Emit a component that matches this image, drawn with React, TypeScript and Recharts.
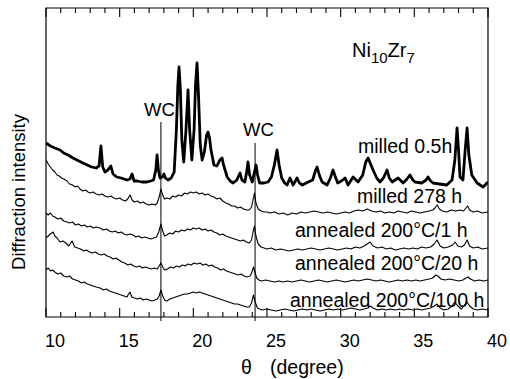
import { LineChart, Line, XAxis, YAxis, ReferenceLine, ReferenceArea } from "recharts";

// XRD patterns of Ni10Zr7, intensity in arbitrary units (offset stacked)
const milled05h: [number, number][] = [
  [10.0, 174], [10.3, 171], [10.6, 169], [10.95, 167], [11.2, 164], [11.5, 162], [11.83, 159], [12.1, 157],
  [12.5, 154], [12.8, 152], [13.1, 150], [13.4, 149], [13.6, 151], [13.73, 171], [13.85, 150], [14.0, 145],
  [14.2, 147], [14.4, 151], [14.55, 143], [14.8, 140], [15.1, 139], [15.5, 137], [15.7, 138], [15.84, 143],
  [15.98, 136], [16.2, 136], [16.5, 135], [16.85, 135], [17.1, 136], [17.3, 137], [17.45, 147], [17.54, 162],
  [17.63, 147], [17.74, 139], [17.9, 140], [18.0, 143], [18.1, 139], [18.28, 137], [18.5, 139], [18.7, 145],
  [18.85, 187], [18.95, 232], [19.03, 250], [19.12, 227], [19.22, 177], [19.35, 155], [19.5, 187], [19.64, 227],
  [19.75, 187], [19.9, 157], [20.05, 187], [20.15, 232], [20.25, 254], [20.35, 222], [20.47, 172], [20.6, 157],
  [20.75, 165], [20.9, 182], [21.0, 185], [21.1, 179], [21.2, 167], [21.4, 152], [21.6, 151], [21.8, 157],
  [21.95, 159], [22.05, 152], [22.3, 140], [22.5, 136], [22.7, 134], [22.95, 137], [23.17, 144], [23.3, 137],
  [23.5, 135], [23.62, 145], [23.71, 155], [23.82, 142], [24.0, 135], [24.15, 145], [24.26, 152], [24.36, 142],
  [24.5, 134], [24.8, 134], [25.07, 135], [25.3, 140], [25.5, 152], [25.68, 167], [25.82, 152], [26.0, 139],
  [26.2, 134], [26.36, 132], [26.56, 139], [26.77, 132], [27.04, 139], [27.2, 134], [27.4, 132], [27.8, 135],
  [28.1, 137], [28.3, 147], [28.4, 150], [28.55, 142], [28.74, 135], [29.08, 132], [29.3, 139], [29.48, 147],
  [29.62, 141], [29.8, 134], [30.05, 136], [30.3, 139], [30.5, 132], [30.84, 140], [31.18, 135], [31.5, 142],
  [31.7, 155], [31.86, 159], [32.0, 154], [32.2, 147], [32.45, 139], [32.67, 135], [32.9, 139], [33.15, 147],
  [33.3, 139], [33.5, 135], [33.9, 139], [34.24, 134], [34.5, 138], [34.7, 142], [34.9, 137], [35.05, 135],
  [35.5, 134], [35.8, 137], [35.93, 140], [36.1, 136], [36.27, 134], [36.7, 133], [37.2, 132], [37.56, 137],
  [37.75, 157], [37.9, 189], [38.0, 167], [38.1, 140], [38.3, 137], [38.45, 167], [38.58, 189], [38.7, 162],
  [38.9, 142], [39.26, 134], [39.67, 130], [40.0, 135],
];

const milled278h: [number, number][] = [
  [10.0, 157], [10.15, 153], [10.3, 150], [10.45, 147], [10.6, 145], [10.75, 142], [10.9, 141], [11.05, 139],
  [11.2, 138], [11.43, 136], [11.6, 133], [11.8, 132], [12.0, 130], [12.15, 131], [12.3, 128], [12.5, 126],
  [12.7, 127], [12.85, 125], [13.0, 124], [13.2, 125], [13.4, 123], [13.6, 122], [13.8, 123], [14.0, 121],
  [14.2, 120], [14.4, 121], [14.6, 119], [14.8, 118], [15.0, 119], [15.2, 117], [15.4, 116], [15.55, 118],
  [15.7, 122], [15.85, 117], [16.0, 115], [16.2, 116], [16.4, 114], [16.6, 115], [16.8, 113], [17.0, 112],
  [17.2, 113], [17.4, 112], [17.55, 114], [17.68, 120], [17.8, 128], [17.92, 122], [18.05, 118], [18.2, 119],
  [18.4, 118], [18.6, 121], [18.8, 120], [19.0, 122], [19.2, 121], [19.4, 124], [19.6, 123], [19.8, 125],
  [20.0, 124], [20.2, 125], [20.4, 123], [20.6, 124], [20.8, 122], [21.0, 123], [21.2, 121], [21.4, 120],
  [21.6, 118], [21.8, 119], [22.0, 116], [22.2, 114], [22.4, 113], [22.6, 111], [22.8, 111], [23.0, 109],
  [23.2, 110], [23.4, 108], [23.6, 107], [23.8, 107], [23.95, 110], [24.05, 117], [24.15, 124], [24.25, 114],
  [24.4, 108], [24.6, 106], [24.8, 105], [25.0, 105], [25.2, 104], [25.5, 105], [25.8, 103], [26.1, 104],
  [26.4, 102], [26.7, 104], [27.0, 103], [27.3, 105], [27.6, 104], [27.9, 105], [28.2, 106], [28.5, 105],
  [28.8, 104], [29.1, 105], [29.4, 104], [29.7, 103], [30.0, 104], [30.3, 105], [30.6, 104], [30.9, 106],
  [31.2, 107], [31.5, 106], [31.8, 108], [32.1, 106], [32.4, 105], [32.7, 106], [33.0, 104], [33.3, 105],
  [33.6, 104], [33.9, 106], [34.2, 105], [34.5, 104], [34.8, 106], [35.1, 105], [35.4, 104], [35.7, 105],
  [36.0, 106], [36.25, 107], [36.4, 109], [36.55, 112], [36.7, 108], [36.9, 106], [37.2, 105], [37.5, 107],
  [37.8, 106], [38.1, 107], [38.35, 106], [38.5, 109], [38.62, 111], [38.75, 107], [39.0, 105], [39.3, 106],
  [39.6, 104], [40.0, 105],
];

const annealed1h: [number, number][] = [
  [10.0, 104], [10.15, 102], [10.3, 104], [10.45, 101], [10.6, 100], [10.8, 98], [11.0, 99], [11.2, 96],
  [11.43, 95], [11.6, 94], [11.8, 95], [12.0, 92], [12.2, 93], [12.4, 91], [12.6, 92], [12.8, 90],
  [13.0, 91], [13.2, 89], [13.4, 90], [13.67, 89], [13.9, 87], [14.1, 88], [14.3, 86], [14.5, 85],
  [14.7, 86], [14.9, 84], [15.1, 85], [15.3, 83], [15.5, 82], [15.7, 83], [15.9, 82], [16.1, 80],
  [16.3, 81], [16.5, 79], [16.7, 80], [16.9, 79], [17.1, 78], [17.3, 79], [17.5, 80], [17.65, 85],
  [17.8, 93], [17.92, 86], [18.05, 81], [18.2, 82], [18.4, 84], [18.6, 83], [18.8, 86], [19.0, 85],
  [19.2, 87], [19.4, 86], [19.6, 88], [19.8, 87], [20.0, 89], [20.2, 88], [20.4, 89], [20.6, 87],
  [20.8, 88], [21.0, 86], [21.2, 87], [21.4, 85], [21.6, 84], [21.8, 82], [22.0, 83], [22.2, 81],
  [22.4, 80], [22.6, 79], [22.8, 78], [23.0, 77], [23.2, 76], [23.4, 77], [23.6, 75], [23.8, 74],
  [23.95, 77], [24.05, 85], [24.15, 91], [24.25, 81], [24.4, 73], [24.6, 70], [24.8, 69], [25.0, 68],
  [25.3, 69], [25.6, 67], [25.9, 68], [26.2, 67], [26.5, 66], [26.8, 67], [27.1, 68], [27.4, 67],
  [27.7, 68], [28.0, 69], [28.3, 68], [28.6, 67], [28.9, 68], [29.2, 69], [29.5, 68], [29.8, 67],
  [30.1, 68], [30.4, 69], [30.7, 68], [31.0, 70], [31.3, 69], [31.6, 71], [31.8, 73], [32.0, 75],
  [32.2, 71], [32.5, 69], [32.8, 70], [33.1, 68], [33.4, 69], [33.7, 67], [34.0, 68], [34.3, 69],
  [34.6, 68], [34.9, 69], [35.2, 68], [35.5, 70], [35.8, 69], [36.1, 70], [36.35, 73], [36.55, 77],
  [36.75, 71], [37.0, 69], [37.3, 70], [37.6, 72], [37.77, 75], [37.95, 71], [38.2, 70], [38.4, 72],
  [38.58, 77], [38.75, 71], [39.0, 69], [39.3, 70], [39.6, 68], [40.0, 69],
];

const annealed20h: [number, number][] = [
  [10.0, 79], [10.15, 81], [10.3, 83], [10.48, 85], [10.6, 81], [10.75, 79], [10.95, 75], [11.15, 76],
  [11.35, 74], [11.55, 71], [11.77, 76], [11.95, 70], [12.15, 69], [12.35, 68], [12.55, 66], [12.75, 67],
  [12.95, 65], [13.15, 64], [13.35, 65], [13.55, 63], [13.75, 62], [13.95, 63], [14.15, 61], [14.35, 60],
  [14.55, 58], [14.75, 59], [14.95, 57], [15.15, 55], [15.35, 54], [15.55, 52], [15.75, 53], [15.95, 51],
  [16.15, 50], [16.35, 51], [16.55, 49], [16.75, 50], [16.95, 49], [17.15, 48], [17.35, 49], [17.55, 48],
  [17.68, 51], [17.8, 54], [17.92, 50], [18.05, 47], [18.25, 48], [18.45, 50], [18.65, 49], [18.85, 51],
  [19.05, 50], [19.25, 52], [19.45, 51], [19.65, 53], [19.85, 52], [20.05, 54], [20.25, 53], [20.45, 54],
  [20.65, 52], [20.85, 53], [21.05, 51], [21.25, 52], [21.45, 50], [21.65, 49], [21.85, 47], [22.05, 48],
  [22.25, 46], [22.45, 45], [22.65, 44], [22.85, 43], [23.05, 42], [23.25, 43], [23.45, 41], [23.65, 40],
  [23.85, 41], [23.98, 45], [24.08, 50], [24.18, 45], [24.3, 39], [24.45, 37], [24.65, 36], [24.9, 37],
  [25.2, 36], [25.5, 35], [25.8, 36], [26.1, 35], [26.4, 36], [26.7, 35], [27.0, 36], [27.3, 37],
  [27.6, 36], [27.9, 35], [28.2, 36], [28.5, 37], [28.8, 36], [29.1, 35], [29.4, 36], [29.7, 37],
  [30.0, 36], [30.3, 35], [30.6, 36], [30.9, 37], [31.2, 36], [31.5, 37], [31.8, 38], [32.1, 37],
  [32.4, 36], [32.7, 37], [33.0, 36], [33.3, 35], [33.6, 36], [33.9, 37], [34.2, 36], [34.5, 37],
  [34.8, 36], [35.1, 37], [35.4, 36], [35.7, 37], [36.0, 38], [36.25, 39], [36.45, 42], [36.6, 41],
  [36.8, 38], [37.1, 37], [37.4, 38], [37.7, 37], [38.0, 36], [38.3, 37], [38.5, 39], [38.65, 40],
  [38.8, 38], [39.1, 36], [39.4, 37], [39.7, 36], [40.0, 37],
];

const annealed100h: [number, number][] = [
  [10.0, 47], [10.15, 49], [10.3, 46], [10.45, 47], [10.6, 45], [10.8, 43], [11.0, 44], [11.2, 41],
  [11.43, 40], [11.6, 41], [11.8, 38], [12.0, 37], [12.2, 36], [12.4, 34], [12.6, 35], [12.8, 33],
  [13.0, 32], [13.2, 31], [13.4, 30], [13.67, 29], [13.9, 27], [14.1, 28], [14.3, 26], [14.5, 25],
  [14.7, 24], [14.9, 23], [15.1, 22], [15.3, 21], [15.5, 20], [15.6, 23], [15.7, 25], [15.82, 20],
  [16.0, 19], [16.2, 18], [16.4, 19], [16.6, 17], [16.8, 18], [17.0, 17], [17.2, 16], [17.4, 17],
  [17.55, 18], [17.68, 21], [17.8, 27], [17.92, 21], [18.05, 17], [18.2, 16], [18.4, 18], [18.6, 19],
  [18.8, 20], [19.0, 21], [19.2, 22], [19.4, 23], [19.6, 23], [19.8, 24], [20.0, 25], [20.2, 24],
  [20.4, 25], [20.6, 24], [20.8, 23], [21.0, 22], [21.2, 21], [21.4, 20], [21.6, 19], [21.8, 18],
  [22.0, 17], [22.2, 16], [22.4, 15], [22.6, 14], [22.8, 13], [23.0, 13], [23.2, 12], [23.4, 11],
  [23.6, 10], [23.8, 10], [23.95, 14], [24.08, 22], [24.2, 15], [24.35, 9], [24.5, 8], [24.7, 7],
  [25.0, 8], [25.3, 7], [25.6, 6], [25.9, 7], [26.2, 8], [26.5, 7], [26.8, 6], [27.1, 7],
  [27.4, 8], [27.7, 7], [28.0, 8], [28.3, 7], [28.6, 6], [28.9, 7], [29.2, 8], [29.5, 7],
  [29.8, 8], [30.1, 7], [30.4, 8], [30.7, 9], [31.0, 8], [31.3, 7], [31.6, 8], [31.85, 9],
  [32.0, 11], [32.2, 9], [32.5, 7], [32.8, 8], [33.1, 7], [33.4, 8], [33.7, 7], [34.0, 8],
  [34.3, 7], [34.6, 8], [34.9, 7], [35.2, 8], [35.5, 7], [35.8, 8], [36.1, 9], [36.35, 11],
  [36.55, 13], [36.75, 9], [37.0, 7], [37.3, 8], [37.55, 11], [37.75, 15], [37.95, 11], [38.2, 8],
  [38.4, 12], [38.58, 15], [38.75, 11], [39.0, 8], [39.3, 7], [39.6, 8], [40.0, 7],
];

const minorTicks = Array.from({ length: 31 }, (_, i) => 10 + i);
const majorTicks = [10, 15, 20, 25, 30, 35, 40];
const wcPeaks = [17.8, 24.19];
const wcTops = [195, 174];

const FONT = '"Liberation Sans", Arial, Helvetica, sans-serif';

const series = [
  { key: "m05", data: milled05h, width: 2.8 },
  { key: "m278", data: milled278h, width: 1.1 },
  { key: "a1", data: annealed1h, width: 1.1 },
  { key: "a20", data: annealed20h, width: 1.1 },
  { key: "a100", data: annealed100h, width: 1.1 },
];

const BottomTick = (props: any) => {
  const { x, y, payload } = props;
  const major = majorTicks.includes(payload.value);
  return (
    <g>
      <line x1={x} x2={x} y1={y} y2={y - (major ? 9 : 5)} stroke="#000" strokeWidth={1.1} />
      {major && (
        <text x={x + 9} y={y + 30} textAnchor="middle" fontSize={18} fontFamily={FONT} fill="#000">
          {payload.value}
        </text>
      )}
    </g>
  );
};

const TopTick = (props: any) => {
  const { x, y, payload } = props;
  const major = majorTicks.includes(payload.value);
  return <line x1={x} x2={x} y1={y} y2={y + (major ? 9 : 5)} stroke="#000" strokeWidth={1.1} />;
};

const label = (text: string, left: number, top: number, size = 19.5) => (
  <div
    style={{
      position: "absolute",
      left,
      top,
      fontSize: size,
      lineHeight: 1,
      fontFamily: FONT,
      color: "#000",
      whiteSpace: "pre",
    }}
  >
    {text}
  </div>
);

export default function App() {
  return (
    <div style={{ position: "absolute", left: 0, top: 0, width: 510, height: 379, background: "#fff" }}>
      <LineChart width={510} height={379} margin={{ top: 0, right: 22, bottom: 0, left: 46 }}>
        <XAxis
          type="number"
          dataKey="x"
          domain={[10, 40]}
          allowDataOverflow
          ticks={minorTicks}
          interval={0}
          height={62}
          tickSize={0}
          tickMargin={0}
          tickLine={false}
          axisLine={false}
          tick={BottomTick}
        />
        <XAxis
          xAxisId="top"
          orientation="top"
          type="number"
          dataKey="x"
          domain={[10, 40]}
          allowDataOverflow
          ticks={minorTicks}
          interval={0}
          height={8}
          tickSize={0}
          tickMargin={0}
          tickLine={false}
          axisLine={false}
          tick={TopTick}
        />
        <YAxis type="number" domain={[0, 309]} allowDataOverflow hide />
        <ReferenceArea x1={10} x2={40} y1={0} y2={309} fill="none" stroke="#000" strokeWidth={1.2} />
        {wcPeaks.map((p, i) => (
          <ReferenceLine
            key={p}
            segment={[{ x: p, y: wcTops[i] }, { x: p, y: -4 }]}
            stroke="#000"
            strokeWidth={1}
            ifOverflow="visible"
          />
        ))}
        {series.map((s) => (
          <Line
            key={s.key}
            data={s.data.map(([x, y]) => ({ x, y }))}
            dataKey="y"
            type="linear"
            stroke="#000"
            strokeWidth={s.width}
            strokeLinejoin="round"
            dot={false}
            activeDot={false}
            isAnimationActive={false}
          />
        ))}
      </LineChart>

      {label("WC", 144, 101, 18.5)}
      {label("WC", 243, 121, 18.5)}
      <div
        style={{ position: "absolute", left: 352, top: 40, fontSize: 20, lineHeight: 1, fontFamily: FONT, color: "#000" }}
      >
        Ni<span style={{ fontSize: 15, position: "relative", top: 6 }}>10</span>Zr
        <span style={{ fontSize: 15, position: "relative", top: 6 }}>7</span>
      </div>
      {label("milled 0.5h", 358, 136.5)}
      {label("milled 278 h", 357, 186.5)}
      {label("annealed 200°C/1 h", 295, 220.5)}
      {label("annealed 200°C/20 h", 295, 253.5)}
      {label("annealed 200°C/100 h", 290, 290.5)}
      {label("θ", 241, 357.5)}
      {label("(degree)", 270, 357.5)}
      <div
        style={{
          position: "absolute",
          left: 18.5,
          top: 192,
          transform: "translate(-50%, -50%) rotate(-90deg)",
          fontSize: 18.5,
          lineHeight: 1,
          fontFamily: FONT,
          color: "#000",
          whiteSpace: "nowrap",
        }}
      >
        Diffraction intensity
      </div>
    </div>
  );
}
